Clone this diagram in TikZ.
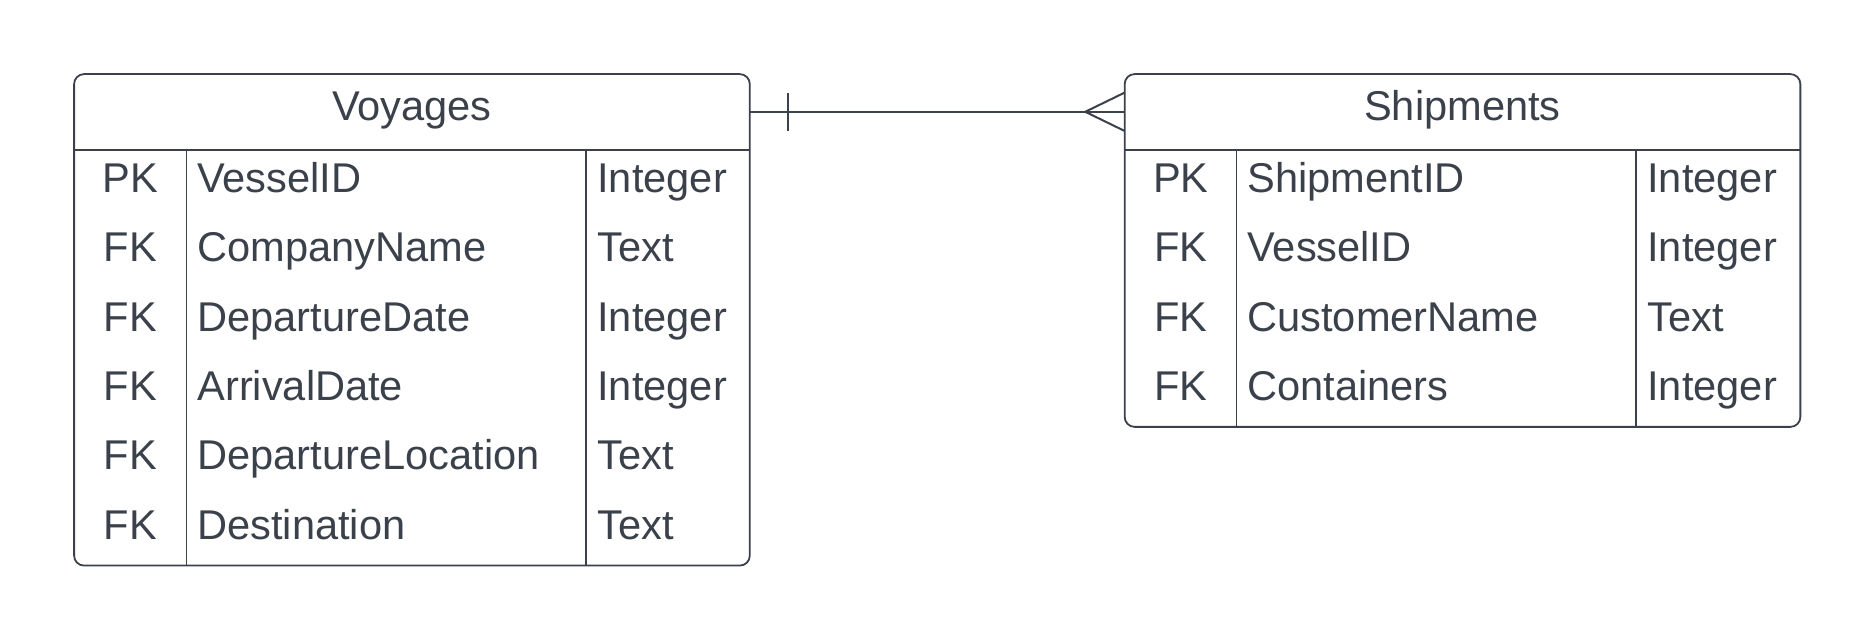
\documentclass[tikz,border=0pt]{standalone}
\usepackage{fontspec}
\setmainfont{Liberation Sans}
\usetikzlibrary{calc}
\definecolor{ink}{HTML}{3A414B}
\begin{document}
\begin{tikzpicture}[x=0.5pt,y=-0.5pt,
  every node/.style={text=ink,font=\fontsize{20.8}{24}\selectfont,inner sep=0pt},
  table/.style={draw=ink,line width=0.9pt,rounded corners=5pt,minimum width=337.85pt},
  head/.style={minimum width=337.85pt,minimum height=37.7pt},
  key/.style={anchor=base},
  field/.style={anchor=base west},
  rule/.style={draw=ink,line width=0.8pt}]
\useasboundingbox (0,0) rectangle (1875,641);
% Voyages
\node[table,minimum height=245.75pt] (voyages) at (411.95,319.85) {};
\node[head] (vhead) at (411.95,111.8) {};
\node (vtitle) at (411.95,110.2) {Voyages};
\draw[rule] (vhead.south west) -- (vhead.south east);
\draw[rule] (186.5,149.5) -- (186.5,565.6);
\draw[rule] (586,149.5) -- (586,565.6);
\node[key] (vk1) at (130.3,192.6) {PK};
\node[field] (vn1) at (197,192.6) {VesselID};
\node[field] (vt1) at (597,192.6) {Integer};
\node[key] (vk2) at (130.3,261.9) {FK};
\node[field] (vn2) at (197,261.9) {CompanyName};
\node[field] (vt2) at (597,261.9) {Text};
\node[key] (vk3) at (130.3,331.3) {FK};
\node[field] (vn3) at (197,331.3) {DepartureDate};
\node[field] (vt3) at (597,331.3) {Integer};
\node[key] (vk4) at (130.3,400.6) {FK};
\node[field] (vn4) at (197,400.6) {ArrivalDate};
\node[field] (vt4) at (597,400.6) {Integer};
\node[key] (vk5) at (130.3,470) {FK};
\node[field] (vn5) at (197,470) {DepartureLocation};
\node[field] (vt5) at (597,470) {Text};
\node[key] (vk6) at (130.3,539.4) {FK};
\node[field] (vn6) at (197,539.4) {Destination};
\node[field] (vt6) at (597,539.4) {Text};
% Shipments
\node[table,minimum height=176.4pt] (shipments) at (1462.5,250.5) {};
\node[head] (shead) at (1462.5,111.8) {};
\node (stitle) at (1462.5,110.2) {Shipments};
\draw[rule] (shead.south west) -- (shead.south east);
\draw[rule] (1236.5,149.5) -- (1236.5,426.9);
\draw[rule] (1635.9,149.5) -- (1635.9,426.9);
\node[key] (sk1) at (1180.9,192.6) {PK};
\node[field] (sn1) at (1247,192.6) {ShipmentID};
\node[field] (st1) at (1647,192.6) {Integer};
\node[key] (sk2) at (1180.9,261.9) {FK};
\node[field] (sn2) at (1247,261.9) {VesselID};
\node[field] (st2) at (1647,261.9) {Integer};
\node[key] (sk3) at (1180.9,331.3) {FK};
\node[field] (sn3) at (1247,331.3) {CustomerName};
\node[field] (st3) at (1647,331.3) {Text};
\node[key] (sk4) at (1180.9,400.6) {FK};
\node[field] (sn4) at (1247,400.6) {Containers};
\node[field] (st4) at (1647,400.6) {Integer};
% one voyage, many shipments
\draw[rule,line width=1pt] (vhead.east) -- (shead.west);
\draw[rule,line width=1pt] ($(vhead.east)+(38,-19)$) -- ($(vhead.east)+(38,19)$);
\draw[rule,line width=1pt] ($(shead.west)+(0,-19)$) -- ($(shead.west)+(-39,0)$) -- ($(shead.west)+(0,19)$);
\end{tikzpicture}
\end{document}
